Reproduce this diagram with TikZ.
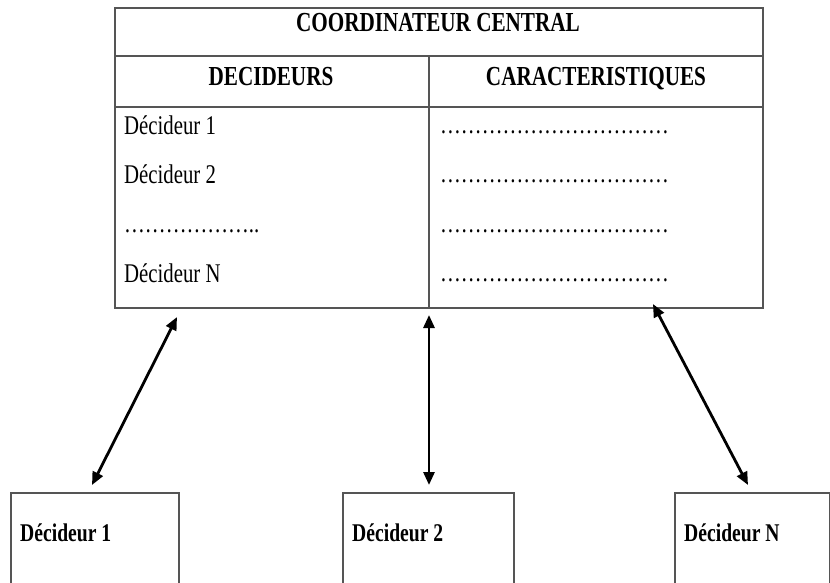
\documentclass[tikz,border=0pt]{standalone}
\usepackage{fontspec}
\setmainfont{Liberation Serif}[FakeStretch=0.77]
\usetikzlibrary{arrows.meta}
\definecolor{frame}{HTML}{555555}
\begin{document}
\begin{tikzpicture}[x=1pt,y=-1pt,
  boxframe/.style={draw=frame,line width=1.5pt,inner sep=0pt,anchor=north west},
  rule/.style={draw=frame,line width=1.5pt},
  txt/.style={inner sep=0pt,font=\fontsize{27}{32}\selectfont},
  head/.style={txt,font=\fontsize{27.5}{32}\selectfont\bfseries,anchor=base},
  cell/.style={txt,anchor=base west},
  link/.style={line width=2.8pt,{Triangle[length=13pt,width=11pt]}-{Triangle[length=13pt,width=11pt]}}]
\useasboundingbox (0,0) rectangle (830,582);
\begin{scope}
\clip (0,0) rectangle (830,582);
% central coordinator table
\node[boxframe,minimum width=648pt,minimum height=300pt] (cc) at (114,7) {};
\draw[rule] (114,56) -- (762,56);
\draw[rule] (114,107) -- (762,107);
\draw[rule] (429,56) -- (429,307);
\node[head] (title) at (438,31) {COORDINATEUR CENTRAL};
\node[head] (hdec) at (271,85) {DECIDEURS};
\node[head] (hcar) at (596,85) {CARACTERISTIQUES};
\node[cell] (r1) at (124,134) {Décideur 1};
\node[cell] (r2) at (124,183) {Décideur 2};
\node[cell] (r3) at (124,232) {………………..};
\node[cell] (r4) at (124,282) {Décideur N};
\node[cell] (c1) at (440,133) {……………………………};
\node[cell] (c2) at (440,182) {……………………………};
\node[cell] (c3) at (440,232) {……………………………};
\node[cell] (c4) at (440,281) {……………………………};
% individual decision makers
\node[boxframe,minimum width=168pt,minimum height=110pt] (d1) at (10,492) {};
\node[boxframe,minimum width=171pt,minimum height=110pt] (d2) at (342,492) {};
\node[boxframe,minimum width=155pt,minimum height=110pt] (dn) at (674,492) {};
\node[cell,font=\fontsize{25.5}{30}\selectfont\bfseries] (l1) at (20,541) {Décideur 1};
\node[cell,font=\fontsize{25.5}{30}\selectfont\bfseries] (l2) at (352,541) {Décideur 2};
\node[cell,font=\fontsize{25.5}{30}\selectfont\bfseries] (ln) at (684,541) {Décideur N};
\end{scope}
% exchange links
\coordinate (a1t) at (177,317);
\coordinate (a1b) at (92,485);
\coordinate (a2t) at (429,315);
\coordinate (a2b) at (429,485);
\coordinate (a3t) at (653,304);
\coordinate (a3b) at (748,485);
\draw[link] (a1t) -- (a1b);
\draw[link] (a2t) -- (a2b);
\draw[link] (a3t) -- (a3b);
\end{tikzpicture}
\end{document}
